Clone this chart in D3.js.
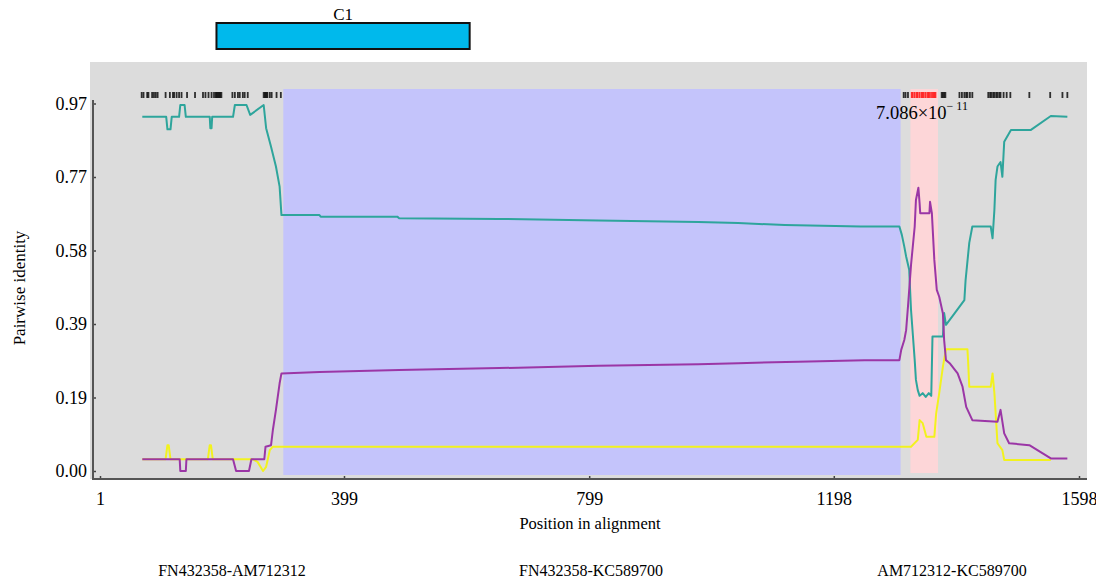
<!DOCTYPE html>
<html><head>
<meta charset="utf-8">
<script src="https://d3js.org/d3.v7.min.js"></script>
<style>
body { margin: 0; background: #fff; font-family: "Liberation Serif", "Times New Roman", serif; }
.tick text { font-family: "Liberation Serif", "Times New Roman", serif; }
</style>
</head>
<body>
<svg id="chart" width="1096" height="581"></svg>
<script>
// [alignment position, pairwise identity]
const teal = [
  [70,0.933],[109,0.933],[111,0.900],[116,0.900],[118,0.933],[130,0.933],[132,0.964],[139,0.964],
  [141,0.933],[180,0.933],[181,0.903],[183,0.903],[184,0.933],[218,0.933],[221,0.964],[240,0.964],
  [246,0.938],[268,0.964],[272,0.903],[280,0.854],[288,0.802],[294,0.749],[297,0.674],[359,0.674],
  [361,0.670],[486,0.670],[489,0.666],[652,0.664],[814,0.660],[977,0.656],[1042,0.653],[1118,0.648],
  [1242,0.644],[1305,0.644],[1309,0.622],[1313,0.591],[1316,0.565],[1321,0.530],[1324,0.424],
  [1330,0.292],[1332,0.240],[1335,0.213],[1338,0.198],[1343,0.205],[1348,0.195],[1353,0.205],
  [1357,0.198],[1359,0.354],[1376,0.354],[1378,0.416],[1381,0.385],[1395,0.415],[1411,0.450],
  [1413,0.503],[1419,0.601],[1424,0.644],[1454,0.644],[1457,0.613],[1460,0.688],[1462,0.767],
  [1465,0.802],[1470,0.814],[1473,0.775],[1476,0.867],[1487,0.898],[1519,0.898],[1552,0.935],[1579,0.933]
];
const purple = [
  [70,0.031],[131,0.031],[132,0],[141,0],[142,0.031],[218,0.031],[223,0],[244,0],[248,0.031],
  [269,0.031],[271,0.064],[280,0.068],[283,0.108],[288,0.161],[294,0.231],[297,0.257],[359,0.261],
  [489,0.266],[652,0.271],[814,0.277],[977,0.281],[1042,0.284],[1140,0.288],[1248,0.292],[1305,0.292],
  [1308,0.319],[1313,0.345],[1316,0.371],[1319,0.433],[1324,0.543],[1330,0.644],[1332,0.714],
  [1336,0.746],[1338,0.705],[1339,0.679],[1354,0.679],[1355,0.709],[1358,0.679],[1362,0.556],
  [1366,0.477],[1370,0.459],[1376,0.415],[1378,0.345],[1381,0.292],[1387,0.284],[1400,0.257],
  [1408,0.222],[1414,0.169],[1424,0.134],[1465,0.130],[1470,0.161],[1476,0.099],[1484,0.073],
  [1517,0.068],[1552,0.033],[1579,0.033]
];
const yellow = [
  [70,0.031],[108,0.031],[111,0.068],[113,0.068],[116,0.031],[177,0.031],[180,0.068],[182,0.068],
  [185,0.031],[250,0.031],[258,0.024],[267,0],[272,0.011],[278,0.055],[283,0.064],[1324,0.064],
  [1335,0.082],[1338,0.134],[1343,0.126],[1349,0.090],[1362,0.090],[1365,0.152],[1370,0.205],
  [1376,0.275],[1381,0.321],[1416,0.321],[1417,0.292],[1419,0.222],[1454,0.222],[1457,0.257],
  [1460,0.205],[1465,0.073],[1473,0.055],[1476,0.029],[1552,0.029]
];

// informative sites shown along the top
const sites = [69,72,78,80,86,89,92,95,108,115,120,122,126,130,134,143,156,169,173,178,183,187,
  190,191,193,194,196,197,199,217,221,226,229,234,237,242,268,270,271,273,274,278,281,289,296,
  1312,1315,1319,1374,1376,1378,1380,1403,1407,1411,1414,1416,1420,1424,
  1450,1453,1455,1458,1460,1463,1465,1468,1470,1475,1480,1486,1517,1551,1571,1579];
const redSites = [1325,1327,1330,1333,1335,1338,1341,1343,1345,1348,1351,1353,1355,1358,1360,1362,1364];

const blueRegion = [300, 1307];
const pinkRegion = [1323, 1368];
const c1Region = [191, 604];

const xTicks = [1, 399, 799, 1198, 1598];
const yTicks = [0, 0.1936, 0.3872, 0.5808, 0.7744, 0.968];
const yTickLabels = ["0.00", "0.19", "0.39", "0.58", "0.77", "0.97"];
const pairLabels = ["FN432358-AM712312", "FN432358-KC589700", "AM712312-KC589700"];

const svg = d3.select("#chart");
const x = d3.scaleLinear().domain([1, 1598]).range([100, 1079]);
const y = d3.scaleLinear().domain([0, 0.968]).range([471, 103.5]);

// grey panel
svg.append("rect").attr("x", 90).attr("y", 62).attr("width", 997).attr("height", 417).attr("fill", "#dcdcdc");

// recombination regions
svg.append("rect")
  .attr("x", x(blueRegion[0])).attr("y", 89)
  .attr("width", x(blueRegion[1]) - x(blueRegion[0])).attr("height", 386)
  .attr("fill", "#c4c4fb");
svg.append("rect")
  .attr("x", x(pinkRegion[0])).attr("y", 89)
  .attr("width", x(pinkRegion[1]) - x(pinkRegion[0])).attr("height", 384)
  .attr("fill", "#fdd6d8");

// site marks
svg.selectAll("rect.site").data(sites).join("rect")
  .attr("class", "site")
  .attr("x", d => x(d) - 0.9).attr("y", 92).attr("width", 1.8).attr("height", 6)
  .attr("fill", "#111").attr("opacity", 0.85);
svg.selectAll("rect.red").data(redSites).join("rect")
  .attr("class", "red")
  .attr("x", d => x(d) - 0.8).attr("y", 92).attr("width", 1.6).attr("height", 6)
  .attr("fill", "#ff1010").attr("opacity", 0.85);

// lines
const line = d3.line().x(d => x(d[0])).y(d => y(d[1]));
[[yellow, "#f2f21e"], [teal, "#2ea59c"], [purple, "#9b36a6"]].forEach(s => {
  svg.append("path").datum(s[0])
    .attr("d", line)
    .attr("fill", "none")
    .attr("stroke", s[1])
    .attr("stroke-width", 2)
    .attr("stroke-linejoin", "round");
});

// axes
const xAxis = svg.append("g").attr("transform", "translate(0,479)")
  .call(d3.axisBottom(x).tickValues(xTicks).tickFormat(d3.format("d")).tickSize(-3).tickPadding(13));
const yAxis = svg.append("g").attr("transform", "translate(93,0)")
  .call(d3.axisLeft(y).tickValues(yTicks).tickFormat((d, i) => yTickLabels[i]).tickSize(-3).tickPadding(6));
[xAxis, yAxis].forEach(g => {
  g.select(".domain").remove();
  g.selectAll(".tick line").attr("stroke", "#444").attr("stroke-width", 1.5);
  g.selectAll(".tick text").attr("font-size", 18).attr("fill", "#000");
});
svg.append("line").attr("x1", 92).attr("x2", 1087).attr("y1", 479).attr("y2", 479)
  .attr("stroke", "#555").attr("stroke-width", 2);
svg.append("line").attr("x1", 93).attr("x2", 93).attr("y1", 100).attr("y2", 480)
  .attr("stroke", "#555").attr("stroke-width", 2);

// axis titles
svg.append("text").attr("x", 590).attr("y", 529).attr("text-anchor", "middle")
  .attr("font-size", 16.5).text("Position in alignment");
svg.append("text").attr("transform", "translate(25,288) rotate(-90)").attr("text-anchor", "middle")
  .attr("font-size", 17).text("Pairwise identity");

// p-value
const pv = svg.append("text").attr("x", 876).attr("y", 119).attr("font-size", 18.5);
pv.append("tspan").text("7.086×10");
pv.append("tspan").attr("dy", -9).attr("font-size", 12).text("− 11");

// C1 box
svg.append("rect").attr("x", x(c1Region[0])).attr("y", 23)
  .attr("width", x(c1Region[1]) - x(c1Region[0])).attr("height", 26)
  .attr("fill", "#00b9ec").attr("stroke", "#111").attr("stroke-width", 2);
svg.append("text").attr("x", (x(c1Region[0]) + x(c1Region[1])) / 2).attr("y", 20)
  .attr("text-anchor", "middle").attr("font-size", 17).text("C1");

// sequence pair labels
svg.selectAll("text.pair").data(pairLabels).join("text")
  .attr("class", "pair")
  .attr("x", (d, i) => [232, 591, 952][i]).attr("y", 576)
  .attr("text-anchor", "middle").attr("font-size", 16).text(d => d);
</script>
</body>
</html>
